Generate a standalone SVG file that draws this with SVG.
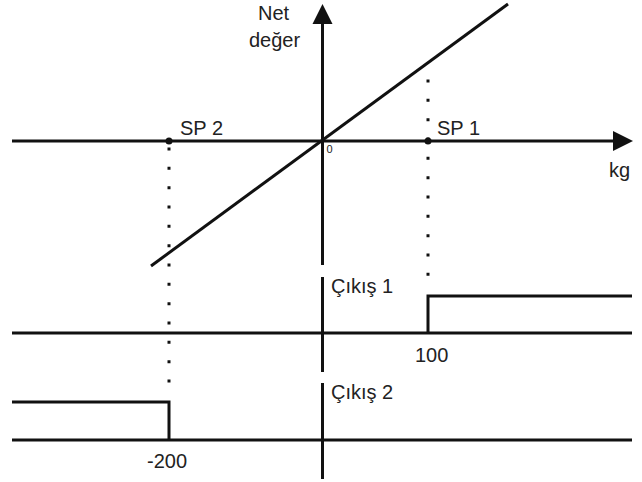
<svg xmlns="http://www.w3.org/2000/svg" width="642" height="482" viewBox="0 0 642 482">
<style>
.ln{stroke:#111;stroke-width:3;fill:none}
.dot{stroke:#111;stroke-width:3;fill:none;stroke-dasharray:3 16.33}
.ah{fill:#111}
text{font-family:"Liberation Sans",Arial,sans-serif;font-size:20px;fill:#222}
.sm{font-size:11px}
</style>
<rect width="642" height="482" fill="#fff"/>
<g id="connectors">
<line class="ln" x1="12" y1="141" x2="615" y2="141"/>
<polygon class="ah" points="633,141 613,131 613,151"/>
<line class="ln" x1="322.5" y1="22" x2="322.5" y2="265"/>
<line class="ln" x1="322.5" y1="277" x2="322.5" y2="372"/>
<line class="ln" x1="322.5" y1="383" x2="322.5" y2="479"/>
<polygon class="ah" points="322.5,4 312.5,24 332.5,24"/>
<line class="ln" x1="151" y1="266" x2="508" y2="4"/>
<line class="dot" x1="169" y1="147.5" x2="169" y2="384"/>
<line class="dot" x1="428" y1="79.5" x2="428" y2="278"/>
<circle cx="169" cy="141" r="3.5" fill="#111"/>
<circle cx="428" cy="141" r="3.5" fill="#111"/>
</g>
<g id="output1">
<line class="ln" x1="12" y1="333" x2="632" y2="333"/>
<polyline class="ln" points="428,333 428,296 632,296"/>
</g>
<g id="output2">
<line class="ln" x1="12" y1="440" x2="632" y2="440"/>
<polyline class="ln" points="12,402 169,402 169,440"/>
</g>
<g id="labels">
<text x="258" y="20">Net</text>
<text x="249" y="47">değer</text>
<text x="180" y="135">SP 2</text>
<text x="437" y="135">SP 1</text>
<text class="sm" x="326.5" y="153">0</text>
<text x="609" y="177">kg</text>
<text x="331" y="293">Çıkış 1</text>
<text x="415" y="362">100</text>
<text x="331" y="399">Çıkış 2</text>
<text x="147" y="468">-200</text>
</g>
</svg>
